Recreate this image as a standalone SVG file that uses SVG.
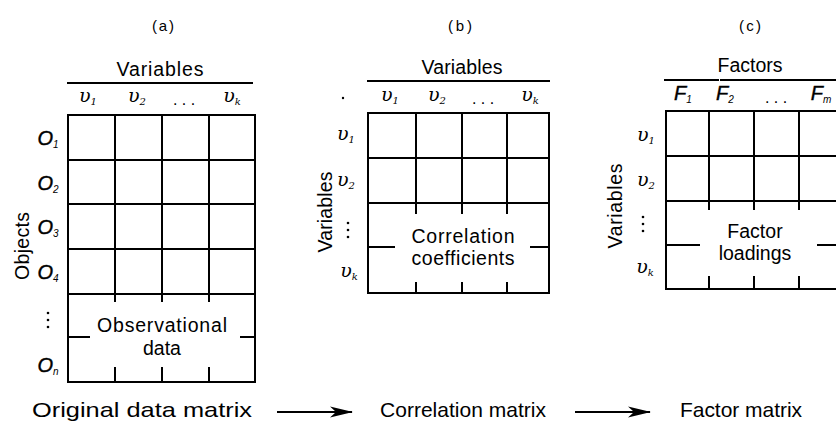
<svg xmlns="http://www.w3.org/2000/svg" width="836" height="429" viewBox="0 0 836 429">
<style>
.ln{stroke:#000;stroke-width:2;fill:none;stroke-linecap:square}
.tk{stroke:#000;stroke-width:2;fill:none}
.t{font-family:"Liberation Sans",Arial,sans-serif;font-size:19.5px;fill:#000}
.cap{font-family:"Liberation Sans",Arial,sans-serif;font-size:15px;fill:#000}
.bt{font-family:"Liberation Sans",Arial,sans-serif;font-size:21px;fill:#000}
.v{font-family:"DejaVu Serif","Liberation Serif",serif;font-style:italic;font-size:19px;fill:#000}
.o{font-family:"Liberation Sans",Arial,sans-serif;font-style:italic;font-size:20px;fill:#000;stroke:#000;stroke-width:0.4}
.s{font-size:10px;stroke-width:0}
.dots{font-family:"Liberation Sans",Arial,sans-serif;font-size:16px;fill:#000}
</style>
<defs>
<marker id="ah" markerUnits="userSpaceOnUse" markerWidth="24" markerHeight="12" refX="22" refY="6" orient="auto">
<path d="M0,0.5 L23,6 L0,11.5 L6,6 Z" fill="#000"/>
</marker>
</defs>
<rect width="836" height="429" fill="#fff"/>

<!-- Panel (a) -->
<g id="matrix-a">
<text class="cap" x="163" y="31" text-anchor="middle" textLength="22">(a)</text>
<text class="t" x="160" y="76" text-anchor="middle" textLength="87">Variables</text>
<line class="ln" x1="68" y1="83" x2="252" y2="83"/>
<text class="v" x="88" y="102" text-anchor="middle">υ<tspan class="s" dy="3">1</tspan></text>
<text class="v" x="137" y="102" text-anchor="middle">υ<tspan class="s" dy="3">2</tspan></text>
<text class="dots" x="184" y="105" text-anchor="middle">. . .</text>
<text class="v" x="232" y="102" text-anchor="middle">υ<tspan class="s" dy="3">k</tspan></text>
<rect class="ln" x="68" y="115" width="187" height="267"/>
<path class="ln" d="M68,160H255M68,204H255M68,249H255M68,294H255M115,115V294M162,115V294M209,115V294"/>
<path class="tk" d="M115,294V302M162,294V302M209,294V302M115,382V367M162,382V367M209,382V367M68,337H90M240,337H255"/>
<text class="t" x="162" y="332" text-anchor="middle" textLength="130">Observational</text>
<text class="t" x="162" y="355" text-anchor="middle">data</text>
<text class="o" x="48" y="145" text-anchor="middle">O<tspan class="s" dy="3">1</tspan></text>
<text class="o" x="48" y="190" text-anchor="middle">O<tspan class="s" dy="3">2</tspan></text>
<text class="o" x="48" y="234" text-anchor="middle">O<tspan class="s" dy="3">3</tspan></text>
<text class="o" x="48" y="279" text-anchor="middle">O<tspan class="s" dy="3">4</tspan></text>
<g fill="#000"><circle cx="48" cy="313" r="1.3"/><circle cx="48" cy="320" r="1.3"/><circle cx="48" cy="327" r="1.3"/></g>
<text class="o" x="48" y="372" text-anchor="middle">O<tspan class="s" dy="3">n</tspan></text>
<text class="t" transform="translate(29,246) rotate(-90)" text-anchor="middle" textLength="68">Objects</text>
</g>

<!-- Panel (b) -->
<g id="matrix-b">
<text class="cap" x="460" y="31" text-anchor="middle" textLength="24">(b)</text>
<text class="t" x="462" y="74" text-anchor="middle" textLength="81">Variables</text>
<line class="ln" x1="368" y1="81" x2="549" y2="81"/>
<circle cx="343" cy="98" r="1.2" fill="#000"/>
<text class="v" x="390" y="101" text-anchor="middle">υ<tspan class="s" dy="3">1</tspan></text>
<text class="v" x="437" y="101" text-anchor="middle">υ<tspan class="s" dy="3">2</tspan></text>
<text class="dots" x="483" y="104" text-anchor="middle">. . .</text>
<text class="v" x="530" y="101" text-anchor="middle">υ<tspan class="s" dy="3">k</tspan></text>
<rect class="ln" x="368" y="113" width="181" height="180"/>
<path class="ln" d="M368,158H549M368,203H549M416,113V203M462,113V203M507,113V203"/>
<path class="tk" d="M416,203V214M462,203V214M507,203V214M416,293V282M462,293V282M507,293V282M368,247H395M530,247H549"/>
<text class="t" x="463" y="243" text-anchor="middle" textLength="103">Correlation</text>
<text class="t" x="463" y="265" text-anchor="middle" textLength="103">coefficients</text>
<text class="v" x="346" y="140" text-anchor="middle">υ<tspan class="s" dy="3">1</tspan></text>
<text class="v" x="346" y="186" text-anchor="middle">υ<tspan class="s" dy="3">2</tspan></text>
<g fill="#000"><circle cx="348" cy="223" r="1.3"/><circle cx="348" cy="230" r="1.3"/><circle cx="348" cy="237" r="1.3"/></g>
<text class="v" x="349" y="277" text-anchor="middle">υ<tspan class="s" dy="3">k</tspan></text>
<text class="t" transform="translate(332,212) rotate(-90)" text-anchor="middle" textLength="81">Variables</text>
</g>

<!-- Panel (c) -->
<g id="matrix-c">
<text class="cap" x="750" y="31" text-anchor="middle" textLength="22">(c)</text>
<text class="t" x="750" y="72" text-anchor="middle" textLength="65">Factors</text>
<path class="ln" d="M665,80H718M721,80H840"/>
<text class="o" x="683" y="100" text-anchor="middle">F<tspan class="s" dy="3">1</tspan></text>
<text class="o" x="725" y="100" text-anchor="middle">F<tspan class="s" dy="3">2</tspan></text>
<text class="dots" x="776" y="103" text-anchor="middle">. . .</text>
<text class="o" x="821" y="100" text-anchor="middle">F<tspan class="s" dy="3">m</tspan></text>
<rect class="ln" x="666" y="111" width="178" height="178"/>
<path class="ln" d="M666,156H844M666,201H844M709,111V201M754,111V201M799,111V201"/>
<path class="tk" d="M709,201V210M754,201V210M799,201V210M709,289V276M754,289V276M799,289V276M666,245H700M817,245H844"/>
<text class="t" x="755" y="238" text-anchor="middle">Factor</text>
<text class="t" x="755" y="260" text-anchor="middle">loadings</text>
<text class="v" x="646" y="141" text-anchor="middle">υ<tspan class="s" dy="3">1</tspan></text>
<text class="v" x="646" y="186" text-anchor="middle">υ<tspan class="s" dy="3">2</tspan></text>
<g fill="#000"><circle cx="643" cy="217" r="1.3"/><circle cx="643" cy="224" r="1.3"/><circle cx="643" cy="231" r="1.3"/></g>
<text class="v" x="645" y="273" text-anchor="middle">υ<tspan class="s" dy="3">k</tspan></text>
<text class="t" transform="translate(622,206) rotate(-90)" text-anchor="middle" textLength="85">Variables</text>
</g>

<!-- Bottom labels -->
<g id="label-original"><text class="bt" x="32" y="417" textLength="220" lengthAdjust="spacingAndGlyphs">Original data matrix</text></g>
<g id="label-correlation"><text class="bt" x="380" y="417" textLength="166">Correlation matrix</text></g>
<g id="label-factor"><text class="bt" x="680" y="417" textLength="122">Factor matrix</text></g>

<!-- Connectors -->
<g id="connectors">
<line class="tk" x1="277" y1="412" x2="352" y2="412" marker-end="url(#ah)"/>
<line class="tk" x1="575" y1="412" x2="650" y2="412" marker-end="url(#ah)"/>
</g>
</svg>
